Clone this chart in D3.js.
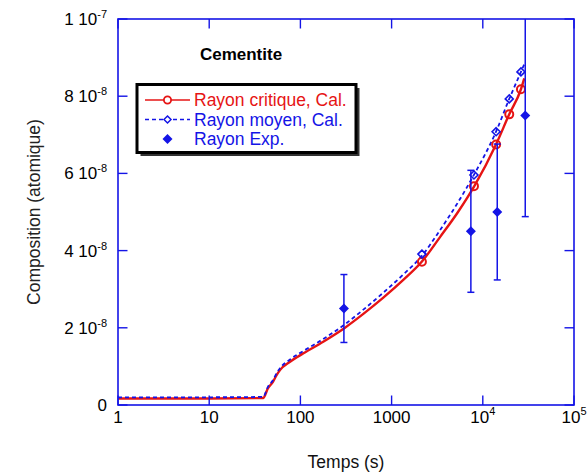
<!DOCTYPE html>
<html>
<head>
<meta charset="utf-8">
<script src="https://cdn.jsdelivr.net/npm/d3@7"></script>
<style>
  body { margin: 0; background: #fff; }
  svg { display: block; font-family: Arial, "Liberation Sans", sans-serif; }
</style>
</head>
<body>
<div id="chart"></div>
<script>
// calculated curves (time in s, radius in 1e-9)
const calcTimes   = [1, 10, 39, 44, 50, 55, 60, 77, 108, 178, 303, 490, 811, 1343, 2138, 3395, 5346, 8070, 13960, 19500, 26200, 28500];
const critValues  = [1.7, 1.7, 1.8, 4.3, 6.0, 7.8, 9.1, 11.2, 13.4, 16.4, 19.9, 23.6, 27.8, 32.4, 37.1, 43.5, 50.0, 56.7, 67.5, 75.3, 81.8, 84.6];
const meanValues  = [2.0, 2.0, 2.1, 4.7, 6.4, 8.3, 9.6, 11.8, 14.0, 17.1, 20.8, 24.7, 29.1, 33.8, 38.6, 45.3, 52.5, 59.8, 70.8, 79.3, 86.3, 88.3];

// marker positions on the calculated curves
const markerTimes   = [2150, 8000, 14000, 19500, 26200];
const critMarkers   = [37.1, 56.7, 67.5, 75.3, 81.8];
const meanMarkers   = [39.1, 59.6, 70.8, 79.3, 86.3];

// experimental points
const expTimes  = [300, 7400, 14400, 29200];
const expValues = [25, 45, 50, 75];
const expErrors = [8.8, 15.8, 17.6, 26.2];

const xTicks = [1, 10, 100, 1000, 1e4, 1e5];
const xTickLabels = [["1", ""], ["10", ""], ["100", ""], ["1000", ""], ["10", "4"], ["10", "5"]];
const yTicks = [0, 20, 40, 60, 80, 100];
const yTickLabels = [["0", ""], ["2 10", "-8"], ["4 10", "-8"], ["6 10", "-8"], ["8 10", "-8"], ["1 10", "-7"]];

const legendLabels = ["Rayon critique, Cal.", "Rayon moyen, Cal.", "Rayon Exp."];

const width = 588, height = 473;
const margin = {top: 19, right: 14, bottom: 68, left: 118};
const blue = "#1414e6", red = "#e61414";

const svg = d3.select("#chart").append("svg")
    .attr("width", width)
    .attr("height", height);

const x = d3.scaleLog().domain([1, 1e5]).range([margin.left, width - margin.right]);
const y = d3.scaleLinear().domain([0, 100]).range([height - margin.bottom, margin.top]);

const x0 = x.range()[0], x1 = x.range()[1], y0 = y.range()[0], y1 = y.range()[1];

svg.append("clipPath").attr("id", "plotClip")
    .append("rect")
    .attr("x", x0).attr("y", y1)
    .attr("width", x1 - x0).attr("height", y0 - y1);

const plot = svg.append("g").attr("clip-path", "url(#plotClip)");

// curves
const line = d3.line()
    .x(d => x(d[0]))
    .y(d => y(d[1]))
    .curve(d3.curveMonotoneX);

plot.append("path")
    .datum(calcTimes.map((t, i) => [t, critValues[i]]))
    .attr("d", line)
    .attr("fill", "none")
    .attr("stroke", red)
    .attr("stroke-width", 2.4);

plot.append("path")
    .datum(calcTimes.map((t, i) => [t, meanValues[i]]))
    .attr("d", line)
    .attr("fill", "none")
    .attr("stroke", blue)
    .attr("stroke-width", 1.8)
    .attr("stroke-dasharray", "4,3");

const diamond = (s) => "M0," + (-s) + "L" + s + ",0L0," + s + "L" + (-s) + ",0Z";

// markers
plot.selectAll(".critMark")
    .data(markerTimes.map((t, i) => [t, critMarkers[i]]))
    .enter().append("circle")
    .attr("class", "critMark")
    .attr("cx", d => x(d[0]))
    .attr("cy", d => y(d[1]))
    .attr("r", 4)
    .attr("fill", "none")
    .attr("stroke", red)
    .attr("stroke-width", 2);

plot.selectAll(".meanMark")
    .data(markerTimes.map((t, i) => [t, meanMarkers[i]]))
    .enter().append("path")
    .attr("class", "meanMark")
    .attr("transform", d => "translate(" + x(d[0]) + "," + y(d[1]) + ")")
    .attr("d", diamond(4))
    .attr("fill", "none")
    .attr("stroke", blue)
    .attr("stroke-width", 1.6);

// experimental points with error bars
const exp = plot.selectAll(".exp")
    .data(expTimes.map((t, i) => ({t: t, v: expValues[i], e: expErrors[i]})))
    .enter().append("g")
    .attr("class", "exp");

exp.append("line")
    .attr("x1", d => x(d.t)).attr("x2", d => x(d.t))
    .attr("y1", d => y(d.v - d.e)).attr("y2", d => y(d.v + d.e))
    .attr("stroke", blue).attr("stroke-width", 1.5);

exp.append("line")
    .attr("x1", d => x(d.t) - 3.5).attr("x2", d => x(d.t) + 3.5)
    .attr("y1", d => y(d.v - d.e)).attr("y2", d => y(d.v - d.e))
    .attr("stroke", blue).attr("stroke-width", 1.5);

exp.append("line")
    .attr("x1", d => x(d.t) - 3.5).attr("x2", d => x(d.t) + 3.5)
    .attr("y1", d => y(d.v + d.e)).attr("y2", d => y(d.v + d.e))
    .attr("stroke", blue).attr("stroke-width", 1.5);

exp.append("path")
    .attr("transform", d => "translate(" + x(d.t) + "," + y(d.v) + ")")
    .attr("d", diamond(5))
    .attr("fill", blue);

// frame
svg.append("rect")
    .attr("x", x0).attr("y", y1)
    .attr("width", x1 - x0).attr("height", y0 - y1)
    .attr("fill", "none")
    .attr("stroke", blue)
    .attr("stroke-width", 1.6);

// ticks, all four sides, pointing inward
const tickLen = 9.5;
xTicks.forEach(t => {
    svg.append("line").attr("x1", x(t)).attr("x2", x(t))
        .attr("y1", y0).attr("y2", y0 - tickLen)
        .attr("stroke", blue).attr("stroke-width", 1.4);
    svg.append("line").attr("x1", x(t)).attr("x2", x(t))
        .attr("y1", y1).attr("y2", y1 + tickLen)
        .attr("stroke", blue).attr("stroke-width", 1.4);
});
yTicks.forEach(v => {
    svg.append("line").attr("x1", x0).attr("x2", x0 + tickLen)
        .attr("y1", y(v)).attr("y2", y(v))
        .attr("stroke", blue).attr("stroke-width", 1.4);
    svg.append("line").attr("x1", x1).attr("x2", x1 - tickLen)
        .attr("y1", y(v)).attr("y2", y(v))
        .attr("stroke", blue).attr("stroke-width", 1.4);
});

// tick labels
xTicks.forEach((t, i) => {
    const txt = svg.append("text")
        .attr("x", x(t)).attr("y", 423)
        .attr("text-anchor", "middle")
        .attr("font-size", 17)
        .attr("fill", "#000");
    txt.append("tspan").text(xTickLabels[i][0]);
    if (xTickLabels[i][1]) {
        txt.append("tspan").attr("dy", -8).attr("font-size", 11).text(xTickLabels[i][1]);
    }
});

yTicks.forEach((v, i) => {
    const txt = svg.append("text")
        .attr("x", 107).attr("y", y(v) + 6)
        .attr("text-anchor", "end")
        .attr("font-size", 17)
        .attr("fill", "#000");
    txt.append("tspan").text(yTickLabels[i][0]);
    if (yTickLabels[i][1]) {
        txt.append("tspan").attr("dy", -7).attr("font-size", 11).text(yTickLabels[i][1]);
    }
});

// axis titles
svg.append("text")
    .attr("x", (x0 + x1) / 2).attr("y", 468)
    .attr("text-anchor", "middle")
    .attr("font-size", 17.5)
    .attr("fill", "#111")
    .text("Temps (s)");

svg.append("text")
    .attr("transform", "translate(40," + ((y0 + y1) / 2) + ") rotate(-90)")
    .attr("text-anchor", "middle")
    .attr("font-size", 17.5)
    .attr("fill", "#222")
    .text("Composition (atomique)");

// title
svg.append("text")
    .attr("x", 241).attr("y", 60)
    .attr("text-anchor", "middle")
    .attr("font-size", 17)
    .attr("font-weight", "bold")
    .attr("fill", "#000")
    .text("Cementite");

// legend
const lg = {x: 137, y: 84.5, w: 219, h: 68};
svg.append("rect")
    .attr("x", lg.x + 3.5).attr("y", lg.y + 3.5)
    .attr("width", lg.w).attr("height", lg.h)
    .attr("fill", "#333");
svg.append("rect")
    .attr("x", lg.x).attr("y", lg.y)
    .attr("width", lg.w).attr("height", lg.h)
    .attr("fill", "#fff")
    .attr("stroke", "#000")
    .attr("stroke-width", 3);

const legendColors = [red, blue, blue];
const rowY = [100, 119.5, 139];
const lx0 = 145, lx1 = 190, lmid = 167.5;

svg.append("line").attr("x1", lx0).attr("x2", lx1).attr("y1", rowY[0]).attr("y2", rowY[0])
    .attr("stroke", red).attr("stroke-width", 1.6);
svg.append("circle").attr("cx", lmid).attr("cy", rowY[0]).attr("r", 3.6)
    .attr("fill", "#fff").attr("stroke", red).attr("stroke-width", 1.8);

svg.append("line").attr("x1", lx0).attr("x2", lx1).attr("y1", rowY[1]).attr("y2", rowY[1])
    .attr("stroke", blue).attr("stroke-width", 1.4).attr("stroke-dasharray", "4,3");
svg.append("path").attr("transform", "translate(" + lmid + "," + rowY[1] + ")")
    .attr("d", diamond(3.5))
    .attr("fill", "#fff").attr("stroke", blue).attr("stroke-width", 1.5);

svg.append("path").attr("transform", "translate(" + lmid + "," + rowY[2] + ")")
    .attr("d", diamond(5))
    .attr("fill", blue);

legendLabels.forEach((l, i) => {
    svg.append("text")
        .attr("x", 194).attr("y", rowY[i] + 6)
        .attr("font-size", 17.5)
        .attr("fill", legendColors[i])
        .text(l);
});
</script>
</body>
</html>
